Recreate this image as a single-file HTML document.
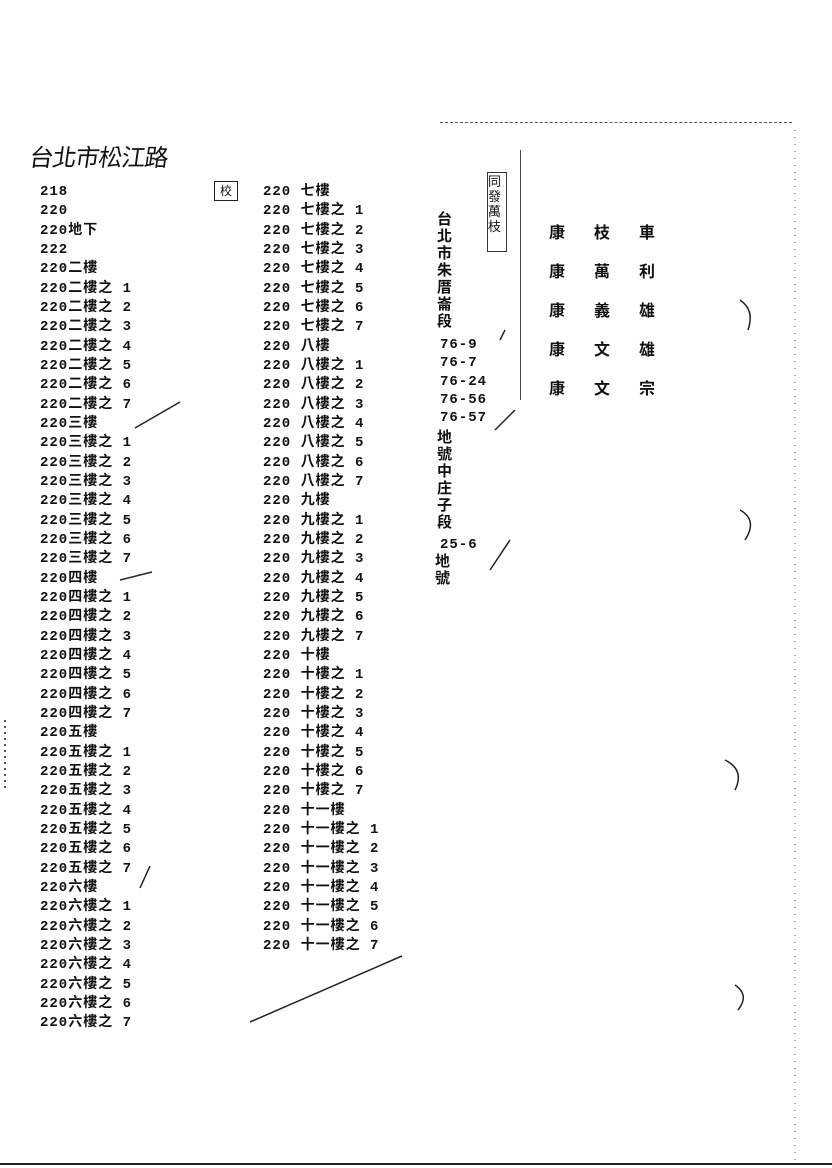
<!DOCTYPE html>
<html><head><meta charset="utf-8"><style>
body{margin:0;width:832px;height:1168px;background:#fff;position:relative;overflow:hidden;font-family:"Liberation Mono","Noto Sans CJK TC",monospace;color:#111}
.r{position:absolute;font-size:14px;line-height:16px;white-space:nowrap;letter-spacing:1px;font-weight:bold}
.v{position:absolute;font-size:15px;line-height:17px;width:16px;font-weight:bold;font-family:"Noto Sans CJK TC",sans-serif}
.h{position:absolute;font-family:"Noto Sans CJK TC",sans-serif;font-weight:bold;font-size:16px}
</style></head><body>
<div style="position:absolute;left:440px;top:122px;width:352px;border-top:1px dashed #555"></div>
<div style="position:absolute;left:0;top:1163px;width:832px;border-top:2px solid #222"></div>
<div class="h" style="left:30px;top:138px;font-size:24px;font-weight:normal;letter-spacing:-1px;transform:skewX(-8deg)">台北市松江路</div>
<div style="position:absolute;left:214px;top:181px;width:22px;height:18px;border:1px solid #222;font-size:12px;text-align:center;font-family:'Noto Sans CJK TC'">校</div>
<div id="c1"></div><div id="c2"></div>
<div class="v" style="left:437px;top:210px">台北市朱厝崙段</div>
<div class="r" style="left:440px;top:336px;line-height:18.3px">76-9<br>76-7<br>76-24<br>76-56<br>76-57</div>
<div class="v" style="left:437px;top:428px">地號中庄子段</div>
<div class="r" style="left:440px;top:537px">25-6</div>
<div class="v" style="left:435px;top:552px">地號</div>
<div class="v" style="left:487px;top:172px;font-size:13px;line-height:15px;border:1px solid #333;height:78px;width:18px;font-weight:normal">同發萬枝</div>
<div style="position:absolute;left:520px;top:150px;height:250px;border-left:1px solid #444"></div>
<div class="h" style="left:549px;top:212px;line-height:39px;letter-spacing:29px">康枝車<br>康萬利<br>康義雄<br>康文雄<br>康文宗</div>
<svg width="832" height="1168" style="position:absolute;left:0;top:0" fill="none" stroke="#222" stroke-width="1.5">
<path d="M250 1022 L402 956"/><path d="M135 428 L180 402"/><path d="M120 580 L152 572"/><path d="M140 888 L150 866"/><path d="M490 570 L510 540"/><path d="M500 340 L505 330"/><path d="M495 430 L515 410"/>
<path d="M740 300 Q755 310 748 330"/><path d="M725 760 Q745 770 735 790"/><path d="M735 985 Q750 995 738 1010"/><path d="M740 510 Q758 520 745 540"/>
<path d="M5 720 L5 790" stroke-dasharray="2 4"/><path d="M795 130 L795 1160" stroke-dasharray="1 6" stroke="#888"/>
</svg>
<script>
function col(id,x,rows){var h='';rows.forEach(function(t,i){h+='<div class="r" style="left:'+x+'px;top:'+(184+i*19.33)+'px">'+t+'</div>'});document.getElementById(id).innerHTML=h;}
var n=['二','三','四','五','六'],a=['218','220','220地下','222'];
n.forEach(function(k){a.push('220'+k+'樓');for(var j=1;j<=7;j++)a.push('220'+k+'樓之 '+j)});
var b=[];['七','八','九','十','十一'].forEach(function(k){b.push('220 '+k+'樓');for(var j=1;j<=7;j++)b.push('220 '+k+'樓之 '+j)});
col('c1',40,a);col('c2',263,b);
</script>
</body></html>
